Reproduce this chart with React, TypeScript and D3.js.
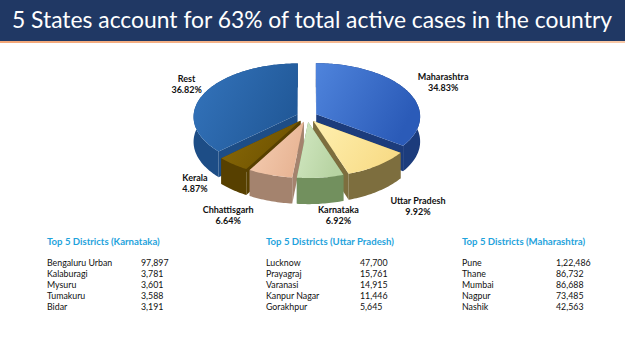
import React from "react";
import * as d3 from "d3";

// chart data
const title = "5 States account for 63% of total active cases in the country";
const states = ["Maharashtra", "Uttar Pradesh", "Karnataka", "Chhattisgarh", "Kerala", "Rest"];
const shares = [34.83, 9.92, 6.92, 6.64, 4.87, 36.82];

const kaDistricts = ["Bengaluru Urban", "Kalaburagi", "Mysuru", "Tumakuru", "Bidar"];
const kaCases = [97897, 3781, 3601, 3588, 3191];
const upDistricts = ["Lucknow", "Prayagraj", "Varanasi", "Kanpur Nagar", "Gorakhpur"];
const upCases = [47700, 15761, 14915, 11446, 5645];
const mhDistricts = ["Pune", "Thane", "Mumbai", "Nagpur", "Nashik"];
const mhCases = [122486, 86732, 86688, 73485, 42563];

// styles
const topColors = [
  ["#4f84dc", "#2b5bb8"],
  ["#fff0b0", "#f8dc88"],
  ["#d2e8c2", "#b7d3a2"],
  ["#f6cfb4", "#e8b595"],
  ["#8a6a08", "#6e5200"],
  ["#3474bc", "#225a9a"],
];
const sideColors = ["#1c3c7c", "#7d6e3e", "#72905e", "#a4836e", "#574000", "#1d4d86"];
// label nudges relative to the computed anchor (dx, dy)
const labelNudge = [[10, -1], [40, 15], [18, 11], [-42, 14], [-38, -7], [10, -3]];

const W = 625;
const H = 351;

// pie geometry
const cx = 307, cy = 116.7, rx = 104, ry = 53.3, persp = 0.04, depth = 25, explode = 0.1;

function project(a: number, r: number, z: number, mid: number) {
  const u = explode * Math.sin(mid) + r * Math.sin(a);
  const v = -explode * Math.cos(mid) - r * Math.cos(a);
  const s = 1 / (1 - persp * v);
  return [cx + rx * u * s, cy + (ry * v + z) * s] as [number, number];
}

function indian(n: number) {
  const s = String(n);
  if (s.length <= 3) return s;
  const last = s.slice(-3);
  let rest = s.slice(0, -3);
  const parts: string[] = [];
  while (rest.length > 2) {
    parts.unshift(rest.slice(-2));
    rest = rest.slice(0, -2);
  }
  if (rest) parts.unshift(rest);
  return parts.join(",") + "," + last;
}

const line = d3.line<[number, number]>();

function arcPts(a0: number, a1: number, z: number, mid: number) {
  const n = Math.max(2, Math.ceil(Math.abs(a1 - a0) / 0.02));
  return d3.range(n + 1).map((i) => project(a0 + ((a1 - a0) * i) / n, 1, z, mid));
}

const Table = ({ x, head, names, values }: { x: number; head: string; names: string[]; values: number[] }) => {
  const y = d3.scalePoint<number>().domain(d3.range(names.length)).range([266, 310]);
  return (
    <g fontFamily="Lato, 'Open Sans', sans-serif">
      <text x={x} y={245} fontSize={9.6} fontWeight="bold" fill="#1fa3dc">{head}</text>
      {names.map((n, i) => (
        <g key={n}>
          <text x={x} y={y(i)} fontSize={8.8} fill="#111">{n}</text>
          <text x={x + 94} y={y(i)} fontSize={8.8} fill="#111">{indian(values[i])}</text>
        </g>
      ))}
    </g>
  );
};

export default function App() {
  const pie = d3.pie<number>().sort(null).value((d) => d).startAngle(0).endAngle(2 * Math.PI);
  const arcs = pie(shares).map((d, i) => ({ ...d, i, mid: (d.startAngle + d.endAngle) / 2 }));
  // paint back slices first
  const order = [...arcs].sort((a, b) => -Math.cos(a.mid) - -Math.cos(b.mid));

  return (
    <svg width={W} height={H} style={{ position: "absolute", left: 0, top: 0 }}>
      <defs>
        {arcs.map((d) => (
          <linearGradient key={d.i} id={`g${d.i}`} x1="0" x2="1" y1="0" y2="0.4">
            <stop offset="0%" stopColor={topColors[d.i][0]} />
            <stop offset="100%" stopColor={topColors[d.i][1]} />
          </linearGradient>
        ))}
        <linearGradient id="orange" x1="0" x2="1">
          <stop offset="0%" stopColor="#f3a778" />
          <stop offset="100%" stopColor="#f8c9a8" />
        </linearGradient>
      </defs>
      <rect width={W} height={H} fill="#fff" />
      <rect width={W} height={41} fill="#203864" />
      <rect y={41} width={W} height={2} fill="url(#orange)" />
      <text x={12} y={28} fontSize={22.5} fill="#fff" fontFamily="Lato, 'Open Sans', sans-serif"
        textLength={600} lengthAdjust="spacingAndGlyphs">{title}</text>

      {order.map((d) => {
        const a0 = d.startAngle, a1 = d.endAngle;
        const apexT = project(0, 0, 0, d.mid);
        const apexB = project(0, 0, depth, d.mid);
        const wall = (a: number) => line([apexT, project(a, 1, 0, d.mid), project(a, 1, depth, d.mid), apexB]) + "Z";
        const outer = line([...arcPts(a0, a1, 0, d.mid), ...arcPts(a1, a0, depth, d.mid)]) + "Z";
        const top = line([apexT, ...arcPts(a0, a1, 0, d.mid)]) + "Z";
        return (
          <g key={d.i}>
            <path d={wall(a0)} fill={sideColors[d.i]} />
            <path d={wall(a1)} fill={sideColors[d.i]} />
            <path d={outer} fill={sideColors[d.i]} />
            <path d={top} fill={`url(#g${d.i})`} />
          </g>
        );
      })}

      {arcs.map((d) => {
        const front = Math.cos(d.mid) < 0;
        const [lx, ly] = front ? project(d.mid, 1, depth, d.mid) : project(d.mid, 1.3, 0, d.mid);
        const x = lx + labelNudge[d.i][0];
        const y = ly + labelNudge[d.i][1];
        return (
          <g key={d.i} fontFamily="Lato, 'Open Sans', sans-serif" fontSize={9} fontWeight="bold" textAnchor="middle" fill="#111">
            <text x={x} y={y - 2}>{states[d.i]}</text>
            <text x={x} y={y + 9}>{shares[d.i].toFixed(2)}%</text>
          </g>
        );
      })}

      <Table x={47} head="Top 5 Districts (Karnataka)" names={kaDistricts} values={kaCases} />
      <Table x={266} head="Top 5 Districts (Uttar Pradesh)" names={upDistricts} values={upCases} />
      <Table x={462} head="Top 5 Districts (Maharashtra)" names={mhDistricts} values={mhCases} />
    </svg>
  );
}
